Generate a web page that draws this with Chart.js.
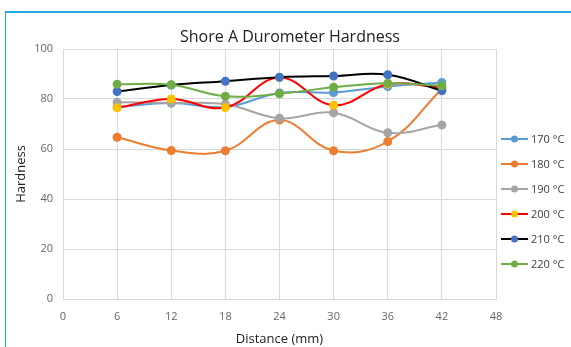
<!DOCTYPE html>
<html>
<head>
<meta charset="utf-8">
<script src="https://cdn.jsdelivr.net/npm/chart.js@4.4.1/dist/chart.umd.min.js"></script>
<style>
    html, body { margin: 0; padding: 0; background: #fff; overflow: hidden; }
    #wrap { position: relative; width: 571px; height: 347px; }
    #frame { position: absolute; left: 5px; top: 11px; width: 700px; height: 500px;
             border-left: 1px solid #1fa8e2; border-top: 2px solid #1fa8e2; pointer-events: none; }
    canvas { position: absolute; left: 0; top: 0; }
</style>
</head>
<body>
<div id="wrap">
    <canvas id="graf" width="571" height="347"></canvas>
    <div id="frame"></div>
</div>
<script>
// distancia (mm)
const distancias = [6, 12, 18, 24, 30, 36, 42];
const temperaturas = ['170 °C', '180 °C', '190 °C', '200 °C', '210 °C', '220 °C'];

const dureza170 = [76.8, 78.4, 76.8, 82.4, 82.6, 85.0, 86.6];
const dureza180 = [64.7, 59.4, 59.3, 71.6, 59.3, 63.0, 84.0];
const dureza190 = [78.7, 78.4, 77.9, 72.3, 74.5, 66.5, 69.6];
const dureza200 = [76.5, 80.0, 76.6, 88.6, 77.5, 85.9, 84.5];
const dureza210 = [83.0, 85.6, 87.1, 88.7, 89.2, 89.7, 83.3];
const dureza220 = [85.9, 85.7, 81.1, 82.1, 84.7, 86.3, 85.3];

const yTicks = [0, 20, 40, 60, 80, 100];

// cores: linha e marcador
const corLinha = ['#5b9bd5', '#ed7d31', '#a5a5a5', '#ff0000', '#000000', '#70ad47'];
const corPonto = ['#5b9bd5', '#ed7d31', '#a5a5a5', '#ffc000', '#4472c4', '#70ad47'];

const series = [dureza170, dureza180, dureza190, dureza200, dureza210, dureza220];

const fonte = "'Open Sans', 'Noto Sans', sans-serif";

const datasets = series.map(function (valores, i) {
    return {
        label: temperaturas[i],
        data: valores.map(function (v, j) { return { x: distancias[j], y: v }; }),
        borderColor: corLinha[i],
        backgroundColor: corPonto[i],
        pointBackgroundColor: corPonto[i],
        pointBorderColor: corPonto[i],
        pointRadius: 3.5,
        pointHoverRadius: 3.5,
        borderWidth: 2,
        tension: 0.4,
        order: series.length - i // ultima serie por cima, como no Excel
    };
});

// titulo e legenda desenhados a mao
const extras = {
    id: 'extras',
    afterDraw: function (chart) {
        const ctx = chart.ctx;
        ctx.save();
        ctx.fillStyle = '#222';
        ctx.font = '16px ' + fonte;
        ctx.textAlign = 'center';
        ctx.textBaseline = 'middle';
        ctx.fillText('Shore A Durometer Hardness', 290, 37);

        ctx.font = '11px ' + fonte;
        ctx.textAlign = 'left';
        chart.data.datasets.forEach(function (ds, i) {
            const y = 139 + i * 25;
            ctx.strokeStyle = ds.borderColor;
            ctx.lineWidth = 2;
            ctx.beginPath();
            ctx.moveTo(501, y);
            ctx.lineTo(528, y);
            ctx.stroke();
            ctx.fillStyle = ds.pointBackgroundColor;
            ctx.beginPath();
            ctx.arc(514.5, y, 3.5, 0, Math.PI * 2);
            ctx.fill();
            ctx.fillStyle = '#404040';
            ctx.fillText(ds.label, 531, y + 1);
        });
        ctx.restore();
    }
};

const ctx = document.getElementById('graf').getContext('2d');
new Chart(ctx, {
    type: 'line',
    data: { datasets: datasets },
    plugins: [extras],
    options: {
        responsive: false,
        animation: false,
        layout: { padding: { left: 0, right: 75, top: 49, bottom: 0 } },
        plugins: {
            legend: { display: false },
            title: { display: false },
            tooltip: { enabled: false }
        },
        scales: {
            x: {
                type: 'linear',
                min: 0,
                max: 48,
                afterFit: function (s) { s.height = 48; },
                afterBuildTicks: function (s) {
                    s.ticks = [0].concat(distancias, [48]).map(function (v) { return { value: v }; });
                },
                grid: { color: '#d9d9d9', drawTicks: false },
                border: { color: '#d9d9d9' },
                ticks: { color: '#666', font: { family: fonte, size: 11 }, padding: 11 },
                title: { display: true, text: 'Distance (mm)', color: '#222',
                         font: { family: fonte, size: 13 }, padding: { top: 2, bottom: 0 } }
            },
            y: {
                min: 0,
                max: 100,
                afterFit: function (s) { s.width = 63; },
                afterBuildTicks: function (s) {
                    s.ticks = yTicks.map(function (v) { return { value: v }; });
                },
                grid: { color: '#d9d9d9', drawTicks: false },
                border: { color: '#d9d9d9' },
                ticks: { color: '#666', font: { family: fonte, size: 11 }, padding: 10 },
                title: { display: true, text: 'Hardness', color: '#222',
                         font: { family: fonte, size: 13 }, padding: { top: 13, bottom: 0 } }
            }
        }
    }
});
</script>
</body>
</html>
